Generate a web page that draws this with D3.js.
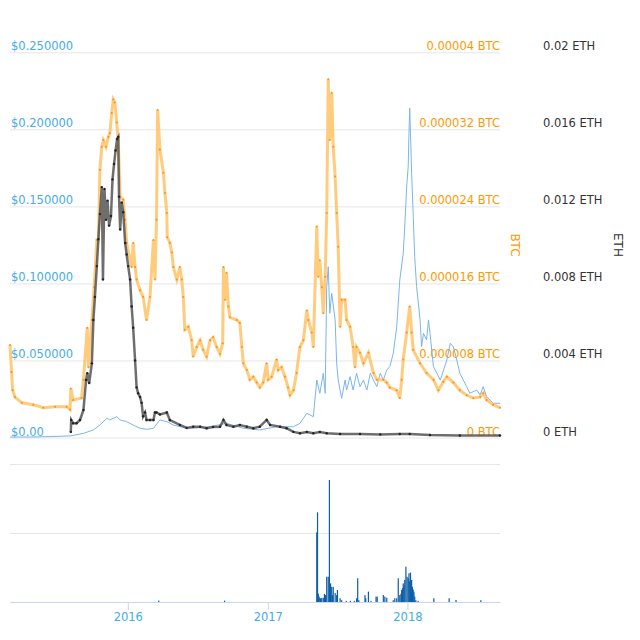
<!DOCTYPE html>
<html>
<head>
<meta charset="utf-8">
<script src="https://cdn.jsdelivr.net/npm/d3@7"></script>
<style>
body { margin: 0; background: #fff; }
text { font-family: "DejaVu Sans", sans-serif; }
</style>
</head>
<body>
<div id="chart"></div>
<script>
// tick values and labels
var usdTicks = [0, 0.05, 0.1, 0.15, 0.2, 0.25];
var usdTickLabels = ["$0.00", "$0.050000", "$0.100000", "$0.150000", "$0.200000", "$0.250000"];
var btcTicks = [0, 0.000008, 0.000016, 0.000024, 0.000032, 0.00004];
var btcTickLabels = ["0 BTC", "0.000008 BTC", "0.000016 BTC", "0.000024 BTC", "0.000032 BTC", "0.00004 BTC"];
var ethTicks = [0, 0.004, 0.008, 0.012, 0.016, 0.02];
var ethTickLabels = ["0 ETH", "0.004 ETH", "0.008 ETH", "0.012 ETH", "0.016 ETH", "0.02 ETH"];
var yearTicks = ["2016-01-01", "2017-01-01", "2018-01-01"];
var yearLabels = ["2016", "2017", "2018"];
var volumeTicks = [0, 50, 100];

// price in USD
var usdPrice = [
    ["2015-02-27", 0.0003], ["2015-04-22", 0.0003], ["2015-06-12", 0.0006], ["2015-08-03", 0.001],
    ["2015-09-07", 0.0027], ["2015-10-03", 0.0049], ["2015-10-20", 0.0081], ["2015-11-07", 0.0125],
    ["2015-11-15", 0.0114], ["2015-12-03", 0.0135], ["2015-12-12", 0.0114], ["2015-12-29", 0.0103],
    ["2016-01-15", 0.0081], ["2016-02-02", 0.0060], ["2016-02-19", 0.0053], ["2016-03-08", 0.0060],
    ["2016-03-25", 0.0114], ["2016-04-12", 0.0103], ["2016-04-29", 0.0081], ["2016-05-16", 0.0070],
    ["2016-06-20", 0.0060], ["2016-08-03", 0.0070], ["2016-09-15", 0.0092], ["2016-10-29", 0.0060],
    ["2016-12-11", 0.0049], ["2017-01-24", 0.0070], ["2017-03-09", 0.0070], ["2017-03-26", 0.0092],
    ["2017-04-13", 0.0157], ["2017-04-30", 0.0135], ["2017-05-09", 0.0373], ["2017-05-17", 0.0287],
    ["2017-05-26", 0.0417], ["2017-05-31", 0.0287], ["2017-06-04", 0.0979], ["2017-06-08", 0.1108],
    ["2017-06-12", 0.0806], ["2017-06-17", 0.0936], ["2017-06-26", 0.0763], ["2017-06-30", 0.0482],
    ["2017-07-04", 0.0373], ["2017-07-13", 0.0254], ["2017-07-22", 0.0373], ["2017-07-26", 0.0308],
    ["2017-08-04", 0.0395], ["2017-08-12", 0.0308], ["2017-08-21", 0.0417], ["2017-08-30", 0.0330],
    ["2017-09-08", 0.0373], ["2017-09-17", 0.0308], ["2017-09-26", 0.0417], ["2017-10-04", 0.0373],
    ["2017-10-13", 0.0330], ["2017-10-22", 0.0417], ["2017-10-30", 0.0373], ["2017-11-08", 0.0438],
    ["2017-11-16", 0.0460], ["2017-11-25", 0.0546], ["2017-12-04", 0.0719], ["2017-12-12", 0.1022],
    ["2017-12-21", 0.1195], ["2017-12-25", 0.1368], ["2017-12-30", 0.1628], ["2018-01-03", 0.1757],
    ["2018-01-05", 0.1974], ["2018-01-07", 0.2137], ["2018-01-10", 0.1887], ["2018-01-12", 0.1715],
    ["2018-01-16", 0.1455], ["2018-01-20", 0.1173], ["2018-01-25", 0.0979], ["2018-02-03", 0.0763],
    ["2018-02-07", 0.0589], ["2018-02-12", 0.0676], ["2018-02-20", 0.0633], ["2018-02-25", 0.0763],
    ["2018-03-01", 0.0676], ["2018-03-10", 0.0459], ["2018-03-19", 0.0417], ["2018-03-28", 0.0373],
    ["2018-04-14", 0.0503], ["2018-04-23", 0.0611], ["2018-05-01", 0.0589], ["2018-05-10", 0.0503],
    ["2018-05-18", 0.0417], ["2018-05-27", 0.0373], ["2018-06-05", 0.0330], ["2018-06-13", 0.0287],
    ["2018-07-01", 0.0308], ["2018-07-10", 0.0276], ["2018-07-18", 0.0330], ["2018-07-27", 0.0265],
    ["2018-08-13", 0.0222], ["2018-08-31", 0.0222]
];

// price in BTC
var btcPrice = [
    ["2015-02-27", 9.6e-6], ["2015-03-03", 6.8e-6], ["2015-03-06", 4.9e-6], ["2015-03-12", 4.2e-6],
    ["2015-03-30", 3.6e-6], ["2015-04-29", 3.4e-6], ["2015-05-25", 3.1e-6], ["2015-06-25", 3.2e-6],
    ["2015-07-25", 3.2e-6], ["2015-08-03", 2.9e-6], ["2015-08-05", 5.1e-6], ["2015-08-11", 3.9e-6],
    ["2015-09-02", 4.1e-6], ["2015-09-07", 6.0e-6], ["2015-09-17", 11.4e-6], ["2015-09-20", 7.3e-6],
    ["2015-09-29", 12.2e-6], ["2015-10-05", 15.6e-6], ["2015-10-12", 20.5e-6], ["2015-10-16", 20.5e-6],
    ["2015-10-20", 27.8e-6], ["2015-10-25", 30.2e-6], ["2015-10-29", 30.9e-6], ["2015-11-05", 30.2e-6],
    ["2015-11-11", 31.2e-6], ["2015-11-15", 31.6e-6], ["2015-11-20", 33.7e-6], ["2015-11-24", 35.1e-6],
    ["2015-11-28", 34.8e-6], ["2015-12-03", 32.7e-6], ["2015-12-07", 30.9e-6], ["2015-12-12", 25.0e-6],
    ["2015-12-20", 24.7e-6], ["2015-12-25", 22.6e-6], ["2015-12-29", 20.2e-6], ["2016-01-11", 17.7e-6],
    ["2016-01-15", 20.2e-6], ["2016-01-20", 17.7e-6], ["2016-01-24", 16.4e-6], ["2016-02-02", 15.3e-6],
    ["2016-02-10", 14.6e-6], ["2016-02-19", 12.2e-6], ["2016-02-28", 14.6e-6], ["2016-03-08", 20.5e-6],
    ["2016-03-12", 16.4e-6], ["2016-03-16", 22.6e-6], ["2016-03-19", 34.0e-6], ["2016-03-25", 29.9e-6],
    ["2016-04-03", 27.5e-6], ["2016-04-07", 25.4e-6], ["2016-04-12", 23.3e-6], ["2016-04-13", 20.8e-6],
    ["2016-04-20", 20.2e-6], ["2016-04-25", 19.2e-6], ["2016-04-29", 17.7e-6], ["2016-05-08", 16.4e-6],
    ["2016-05-16", 17.7e-6], ["2016-05-21", 16.4e-6], ["2016-05-25", 14.6e-6], ["2016-05-29", 11.2e-6],
    ["2016-06-07", 11.5e-6], ["2016-06-16", 10.1e-6], ["2016-06-20", 8.4e-6], ["2016-06-29", 9.4e-6],
    ["2016-07-08", 10.1e-6], ["2016-07-16", 9.1e-6], ["2016-07-25", 8.4e-6], ["2016-08-03", 10.1e-6],
    ["2016-08-11", 10.4e-6], ["2016-08-20", 9.4e-6], ["2016-08-29", 8.7e-6], ["2016-09-05", 9.8e-6],
    ["2016-09-07", 17.7e-6], ["2016-09-11", 14.3e-6], ["2016-09-15", 17.1e-6], ["2016-09-20", 13.6e-6],
    ["2016-09-24", 12.5e-6], ["2016-10-12", 12.2e-6], ["2016-10-20", 11.9e-6], ["2016-10-25", 9.4e-6],
    ["2016-10-29", 7.7e-6], ["2016-11-07", 7.0e-6], ["2016-11-15", 6.0e-6], ["2016-11-24", 6.3e-6],
    ["2016-12-03", 5.7e-6], ["2016-12-11", 5.2e-6], ["2016-12-20", 5.7e-6], ["2016-12-29", 7.7e-6],
    ["2017-01-02", 6.0e-6], ["2017-01-11", 6.3e-6], ["2017-01-24", 8.1e-6], ["2017-01-28", 7.0e-6],
    ["2017-02-06", 7.3e-6], ["2017-02-15", 6.3e-6], ["2017-02-23", 5.2e-6], ["2017-02-28", 4.4e-6],
    ["2017-03-09", 4.9e-6], ["2017-03-17", 6.7e-6], ["2017-03-26", 9.4e-6], ["2017-04-04", 10.1e-6],
    ["2017-04-13", 13.2e-6], ["2017-04-17", 12.2e-6], ["2017-04-26", 10.9e-6], ["2017-04-30", 9.4e-6],
    ["2017-05-09", 21.9e-6], ["2017-05-13", 16.7e-6], ["2017-05-17", 18.4e-6], ["2017-05-22", 15.6e-6],
    ["2017-05-26", 12.9e-6], ["2017-05-31", 16.7e-6], ["2017-06-04", 23.3e-6], ["2017-06-08", 37.2e-6],
    ["2017-06-12", 30.9e-6], ["2017-06-17", 35.8e-6], ["2017-06-21", 30.2e-6], ["2017-06-26", 27.1e-6],
    ["2017-06-30", 23.3e-6], ["2017-07-04", 19.8e-6], ["2017-07-09", 11.5e-6], ["2017-07-13", 14.3e-6],
    ["2017-07-22", 14.3e-6], ["2017-07-26", 12.2e-6], ["2017-08-04", 11.5e-6], ["2017-08-12", 9.4e-6],
    ["2017-08-17", 7.3e-6], ["2017-08-21", 9.4e-6], ["2017-08-30", 8.8e-6], ["2017-09-08", 7.7e-6],
    ["2017-09-21", 8.8e-6], ["2017-10-04", 6.7e-6], ["2017-10-13", 6.0e-6], ["2017-10-30", 6.0e-6],
    ["2017-11-08", 5.7e-6], ["2017-11-16", 5.2e-6], ["2017-12-04", 4.9e-6], ["2017-12-12", 4.1e-6],
    ["2017-12-17", 6.0e-6], ["2017-12-21", 8.1e-6], ["2017-12-30", 10.9e-6], ["2018-01-07", 13.6e-6],
    ["2018-01-12", 10.9e-6], ["2018-01-16", 9.1e-6], ["2018-02-03", 7.7e-6], ["2018-02-20", 6.7e-6],
    ["2018-03-10", 6.0e-6], ["2018-03-23", 4.9e-6], ["2018-04-05", 5.8e-6], ["2018-04-14", 6.3e-6],
    ["2018-05-01", 5.7e-6], ["2018-05-18", 4.9e-6], ["2018-06-05", 4.4e-6], ["2018-06-22", 4.1e-6],
    ["2018-07-10", 4.2e-6], ["2018-07-18", 4.6e-6], ["2018-07-27", 3.9e-6], ["2018-08-13", 3.4e-6],
    ["2018-08-31", 3.1e-6]
];

// price in ETH
var ethPrice = [
    ["2015-08-05", 0.00029], ["2015-08-06", 0.00091], ["2015-08-11", 0.00074], ["2015-08-20", 0.00074],
    ["2015-08-29", 0.00091], ["2015-09-07", 0.00143], ["2015-09-14", 0.00299], ["2015-09-17", 0.00334],
    ["2015-09-22", 0.00283], ["2015-09-29", 0.00385], ["2015-10-03", 0.0061], ["2015-10-07", 0.0073],
    ["2015-10-12", 0.0089], ["2015-10-16", 0.0103], ["2015-10-20", 0.0116], ["2015-10-25", 0.0130],
    ["2015-10-28", 0.0082], ["2015-11-01", 0.0129], ["2015-11-05", 0.0113], ["2015-11-09", 0.0123],
    ["2015-11-13", 0.0110], ["2015-11-18", 0.0115], ["2015-11-22", 0.0134], ["2015-11-26", 0.0142],
    ["2015-11-30", 0.0149], ["2015-12-04", 0.0155], ["2015-12-07", 0.0156], ["2015-12-09", 0.0125],
    ["2015-12-12", 0.0108], ["2015-12-16", 0.0122], ["2015-12-20", 0.0117], ["2015-12-25", 0.0101],
    ["2015-12-29", 0.0095], ["2016-01-02", 0.0089], ["2016-01-07", 0.0082], ["2016-01-11", 0.0068],
    ["2016-01-15", 0.0057], ["2016-01-20", 0.0040], ["2016-01-24", 0.0026], ["2016-01-28", 0.0023],
    ["2016-02-02", 0.0021], ["2016-02-06", 0.0018], ["2016-02-10", 0.0011], ["2016-02-15", 0.0013],
    ["2016-02-19", 0.00091], ["2016-02-28", 0.00091], ["2016-03-08", 0.00091], ["2016-03-12", 0.0013],
    ["2016-03-16", 0.0013], ["2016-03-25", 0.0012], ["2016-04-12", 0.0013], ["2016-04-20", 0.0009],
    ["2016-05-16", 0.00065], ["2016-06-03", 0.0005], ["2016-06-20", 0.00056], ["2016-07-08", 0.00056],
    ["2016-07-25", 0.00048], ["2016-08-11", 0.00055], ["2016-08-29", 0.00056], ["2016-09-07", 0.00091],
    ["2016-09-15", 0.00065], ["2016-10-03", 0.00056], ["2016-10-20", 0.00065], ["2016-11-07", 0.00056],
    ["2016-11-24", 0.00048], ["2016-12-11", 0.00056], ["2016-12-29", 0.00091], ["2017-01-07", 0.00065],
    ["2017-02-02", 0.00056], ["2017-02-19", 0.00048], ["2017-03-09", 0.00029], ["2017-03-26", 0.00022],
    ["2017-04-13", 0.00029], ["2017-04-30", 0.00022], ["2017-05-17", 0.00029], ["2017-06-04", 0.00022],
    ["2017-07-09", 0.00018], ["2017-08-30", 0.00018], ["2017-10-22", 0.00016], ["2017-12-12", 0.00018],
    ["2018-01-07", 0.00018], ["2018-03-01", 0.00013], ["2018-05-18", 0.0001], ["2018-08-31", 0.0001]
];

// 24h volume (relative units)
var volume = [
    ["2016-03-22", 1], ["2016-09-10", 1], ["2017-05-09", 50.5], ["2017-05-11", 65], ["2017-05-13", 6],
    ["2017-05-15", 4], ["2017-05-17", 3], ["2017-05-19", 2.5], ["2017-05-22", 3], ["2017-05-26", 3],
    ["2017-05-29", 5.8], ["2017-06-01", 5], ["2017-06-04", 18.3], ["2017-06-08", 18.3], ["2017-06-11", 88.4],
    ["2017-06-14", 13.5], ["2017-06-17", 11], ["2017-06-19", 5], ["2017-06-21", 11], ["2017-06-26", 6.5],
    ["2017-06-30", 5], ["2017-07-02", 8.7], ["2017-07-09", 2.7], ["2017-07-13", 1.3], ["2017-07-25", 0.8],
    ["2017-08-05", 0.8], ["2017-08-15", 0.8], ["2017-08-21", 2.7], ["2017-08-24", 17.2], ["2017-08-27", 1.3],
    ["2017-09-12", 5], ["2017-09-14", 2.7], ["2017-09-21", 7.5], ["2017-09-28", 0.8], ["2017-10-11", 3.9],
    ["2017-10-14", 3.9], ["2017-10-30", 5], ["2017-11-03", 3.9], ["2017-11-08", 3.1], ["2017-11-25", 1.3],
    ["2017-11-29", 2.7], ["2017-12-04", 2.7], ["2017-12-08", 17.2], ["2017-12-12", 5], ["2017-12-15", 6],
    ["2017-12-17", 8.7], ["2017-12-19", 10], ["2017-12-21", 13.5], ["2017-12-23", 12], ["2017-12-25", 16],
    ["2017-12-28", 25.6], ["2017-12-31", 18.3], ["2018-01-03", 17.2], ["2018-01-05", 20.8], ["2018-01-07", 15],
    ["2018-01-09", 21.3], ["2018-01-12", 16], ["2018-01-14", 11], ["2018-01-16", 9], ["2018-01-18", 7.5],
    ["2018-01-20", 3.9], ["2018-01-23", 1.3], ["2018-01-29", 0.8], ["2018-03-11", 2.7], ["2018-04-20", 2.7],
    ["2018-05-08", 1.5], ["2018-07-12", 1.3]
];

var width = 640, height = 640;
var left = 10, right = 500;
var priceTop = 52.3, priceBottom = 437.5;
var volTop = 464, volBottom = 602;
var labelSize = "11.5px";

var parse = d3.timeParse("%Y-%m-%d");
var toPoints = (arr) => arr.map(d => ({ date: parse(d[0]), v: d[1] }));

var svg = d3.select("#chart").append("svg")
    .attr("width", width)
    .attr("height", height);

var x = d3.scaleTime()
    .domain([parse("2015-02-27"), parse("2018-08-31")])
    .range([left, right]);
var yUsd = d3.scaleLinear().domain([0, 0.25]).range([priceBottom, priceTop]);
var yBtc = d3.scaleLinear().domain([0, 0.00004]).range([priceBottom, priceTop]);
var yEth = d3.scaleLinear().domain([0, 0.02]).range([priceBottom, priceTop]);
var yVol = d3.scaleLinear().domain([0, 100]).range([volBottom, volTop]);

// gridlines
function grid(scale, ticks) {
    var g = svg.append("g")
        .attr("transform", "translate(" + left + ",0)")
        .call(d3.axisRight(scale).tickValues(ticks).tickSize(right - left).tickFormat(""));
    g.select(".domain").remove();
    g.selectAll("line").attr("stroke", "#e6e6e6");
    return g;
}
grid(yUsd, usdTicks);
grid(yVol, volumeTicks.slice(1));

// tick labels
var usdAxis = svg.append("g")
    .attr("transform", "translate(" + left + ",0)")
    .call(d3.axisRight(yUsd).tickValues(usdTicks).tickSize(0)
        .tickFormat((d, i) => usdTickLabels[i]));
usdAxis.select(".domain").remove();
usdAxis.selectAll("text")
    .attr("x", 1).attr("dy", -2.5)
    .attr("text-anchor", "start")
    .attr("fill", "#45ace6")
    .style("font-size", labelSize);

var btcAxis = svg.append("g")
    .attr("transform", "translate(" + right + ",0)")
    .call(d3.axisLeft(yBtc).tickValues(btcTicks).tickSize(0)
        .tickFormat((d, i) => btcTickLabels[i]));
btcAxis.select(".domain").remove();
btcAxis.selectAll("text")
    .attr("x", 0).attr("dy", -2.5)
    .attr("text-anchor", "end")
    .attr("fill", "#ff9900")
    .style("font-size", labelSize);

var ethAxis = svg.append("g")
    .attr("transform", "translate(543,0)")
    .call(d3.axisRight(yEth).tickValues(ethTicks).tickSize(0)
        .tickFormat((d, i) => ethTickLabels[i]));
ethAxis.select(".domain").remove();
ethAxis.selectAll("text")
    .attr("x", 0).attr("dy", -2.5)
    .attr("text-anchor", "start")
    .attr("fill", "#333")
    .style("font-size", labelSize);

svg.append("text")
    .attr("transform", "translate(515,245) rotate(90)")
    .attr("dy", "0.35em")
    .attr("text-anchor", "middle")
    .attr("fill", "#ff9900")
    .style("font-size", "12px")
    .text("BTC");

svg.append("text")
    .attr("transform", "translate(618,245) rotate(90)")
    .attr("dy", "0.35em")
    .attr("text-anchor", "middle")
    .attr("fill", "#333")
    .style("font-size", "12px")
    .text("ETH");

// x axis under the volume pane
var xAxis = svg.append("g")
    .attr("transform", "translate(0," + volBottom + ")")
    .call(d3.axisBottom(x).tickValues(yearTicks.map(parse)).tickSize(8).tickSizeOuter(0)
        .tickFormat((d, i) => yearLabels[i]));
xAxis.select(".domain").attr("stroke", "#ccd6eb");
xAxis.selectAll("line").attr("stroke", "#ccd6eb");
xAxis.selectAll("text")
    .attr("fill", "#45ace6")
    .style("font-size", labelSize);

// volume bars
svg.append("g")
    .selectAll("rect")
    .data(toPoints(volume))
    .enter()
    .append("rect")
    .attr("x", d => x(d.date) - 0.6)
    .attr("width", 1.2)
    .attr("y", d => yVol(d.v))
    .attr("height", d => volBottom - yVol(d.v))
    .attr("fill", "#0d5ea6");

// price lines
var usdData = toPoints(usdPrice);
var btcData = toPoints(btcPrice);
var ethData = toPoints(ethPrice);

svg.append("path")
    .datum(usdData)
    .attr("fill", "none")
    .attr("stroke", "#7cb5ec")
    .attr("stroke-width", 1)
    .attr("d", d3.line().x(d => x(d.date)).y(d => yUsd(d.v)));

svg.append("path")
    .datum(btcData)
    .attr("fill", "none")
    .attr("stroke", "#ffbe5c")
    .attr("stroke-opacity", 0.8)
    .attr("stroke-width", 3)
    .attr("d", d3.line().x(d => x(d.date)).y(d => yBtc(d.v)));

svg.append("g")
    .selectAll("circle")
    .data(btcData)
    .enter()
    .append("circle")
    .attr("cx", d => x(d.date))
    .attr("cy", d => yBtc(d.v))
    .attr("r", 1)
    .attr("fill", "#f7931a");

svg.append("path")
    .datum(ethData)
    .attr("fill", "none")
    .attr("stroke", "#555")
    .attr("stroke-opacity", 0.85)
    .attr("stroke-width", 2.5)
    .attr("d", d3.line().x(d => x(d.date)).y(d => yEth(d.v)));

svg.append("g")
    .selectAll("circle")
    .data(ethData)
    .enter()
    .append("circle")
    .attr("cx", d => x(d.date))
    .attr("cy", d => yEth(d.v))
    .attr("r", 1.2)
    .attr("fill", "#222");
</script>
</body>
</html>
